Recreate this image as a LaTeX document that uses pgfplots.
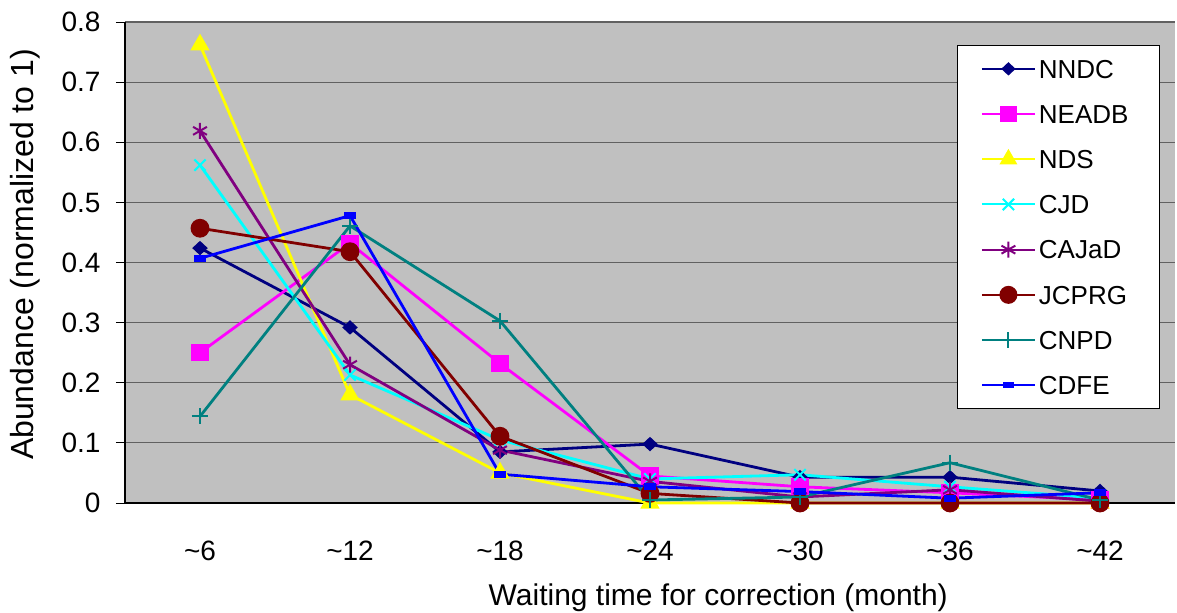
\documentclass[border=0pt]{standalone}
\usepackage{pgfplots}
\pgfplotsset{compat=1.18}
\usepackage{fontspec}
\setmainfont{Liberation Sans}
\definecolor{nndc}{RGB}{0,0,128}
\definecolor{neadb}{RGB}{255,0,255}
\definecolor{nds}{RGB}{255,255,0}
\definecolor{cjd}{RGB}{0,255,255}
\definecolor{cajad}{RGB}{128,0,128}
\definecolor{jcprg}{RGB}{128,0,0}
\definecolor{cnpd}{RGB}{0,128,128}
\definecolor{cdfe}{RGB}{0,0,255}
\definecolor{plotbg}{RGB}{192,192,192}
\begin{document}
\begin{tikzpicture}
\path[use as bounding box] (-62.5pt,-54.5pt) rectangle (526pt,251.5pt);
\begin{axis}[
  scale only axis,
  width=525pt, height=240.5pt,
  xmin=-0.5, xmax=6.5, ymin=0, ymax=0.8,
  clip=false,
  axis background/.style={fill=plotbg},
  axis x line*=bottom, axis y line*=left,
  axis line style={line width=1pt, black},
  tick align=outside,
  xtick={0,...,6},
  xticklabels={\textasciitilde6,\textasciitilde12,\textasciitilde18,\textasciitilde24,\textasciitilde30,\textasciitilde36,\textasciitilde42},
  xtick style={draw=none},
  minor xtick={-0.5,0.5,1.5,2.5,3.5,4.5,5.5,6.5},
  minor x tick style={black, line width=0.5pt, yshift=4pt},
  minor tick length=8.5pt,
  ytick={0,0.1,0.2,0.3,0.4,0.5,0.6,0.7,0.8},
  yticklabels={0,0.1,0.2,0.3,0.4,0.5,0.6,0.7,0.8},
  major tick length=4.5pt,
  ytick style={black, line width=0.5pt},
  ymajorgrids,
  grid style={line width=0.6pt, black!62},
  tick label style={font=\fontsize{14}{16}\selectfont},
  xticklabel style={anchor=base, yshift=-24pt},
  yticklabel style={anchor=east, xshift=-4.2pt},
  xlabel={Waiting time for correction (month)},
  ylabel={Abundance (normalized to 1)},
  xlabel style={font=\fontsize{15}{18}\selectfont, at={(axis description cs:0.565,-0.213)}, anchor=base},
  ylabel style={font=\fontsize{16}{19}\selectfont, at={(axis description cs:-0.0952,0.5166)}, anchor=center},
  every axis plot/.append style={line width=1.4pt},
  legend image code/.code={\draw[mark repeat=2,mark phase=2,#1,line width=1pt] plot coordinates {(0pt,0pt)(13.25pt,0pt)(26.5pt,0pt)};},
  legend cell align=left,
  legend style={at={(axis cs:6.4,0.7617)}, anchor=north east, draw=black, line width=0.5pt, fill=white,
    font=\fontsize{13}{15}\selectfont, inner xsep=11.5pt, inner ysep=3pt, row sep=5.3pt,
    nodes={inner xsep=1.5pt, inner ysep=4pt, text height=9.3pt, text depth=0pt}},
]
\addplot[color=nndc, mark=diamond*, mark size=3.8pt, mark options={solid,fill=nndc,yscale=0.7}] coordinates {(0,0.424)(1,0.292)(2,0.085)(3,0.098)(4,0.043)(5,0.043)(6,0.020)};
\addlegendentry{NNDC}
\addplot[color=neadb, mark=square*, mark size=3.6pt, mark options={solid,fill=neadb}] coordinates {(0,0.250)(1,0.432)(2,0.232)(3,0.045)(4,0.027)(5,0.017)(6,0.005)};
\addlegendentry{NEADB\hspace*{2.5pt}}
\addplot[color=nds, mark=triangle*, mark size=4.2pt, mark options={solid,fill=nds}] coordinates {(0,0.762)(1,0.180)(2,0.050)(3,0)(4,0)(5,0)(6,0)};
\addlegendentry{NDS}
\addplot[color=cjd, mark=x, mark size=4pt, mark options={solid,line width=1pt}] coordinates {(0,0.562)(1,0.213)(2,0.105)(3,0.040)(4,0.047)(5,0.027)(6,0.008)};
\addlegendentry{CJD}
\addplot[color=cajad, mark=asterisk, mark size=4pt, mark options={solid,line width=1pt}] coordinates {(0,0.619)(1,0.230)(2,0.088)(3,0.036)(4,0.010)(5,0.022)(6,0.003)};
\addlegendentry{CAJaD}
\addplot[color=jcprg, mark=*, mark size=4pt, mark options={solid,fill=jcprg}] coordinates {(0,0.457)(1,0.418)(2,0.111)(3,0.016)(4,0)(5,0)(6,0)};
\addlegendentry{JCPRG}
\addplot[color=cnpd, mark=+, mark size=4pt, mark options={solid,line width=1pt}] coordinates {(0,0.144)(1,0.461)(2,0.303)(3,0.005)(4,0.010)(5,0.067)(6,0.005)};
\addlegendentry{CNPD}
\addplot[color=cdfe, mark=square*, mark size=2pt, mark options={solid,fill=cdfe,xscale=1.15,yscale=0.5}] coordinates {(0,0.407)(1,0.478)(2,0.048)(3,0.027)(4,0.019)(5,0.008)(6,0.017)};
\addlegendentry{CDFE}
\end{axis}
\end{tikzpicture}
\end{document}
